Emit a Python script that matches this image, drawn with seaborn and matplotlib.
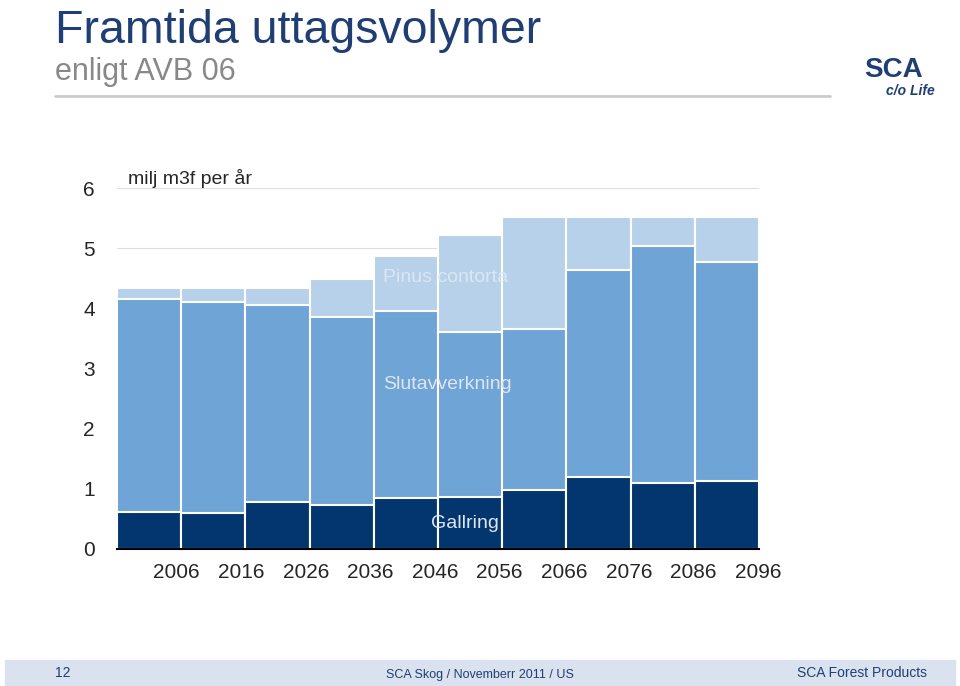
import matplotlib
matplotlib.use("Agg")
import matplotlib.pyplot as plt
import seaborn as sns
import pandas as pd
import numpy as np

years = ["2006","2016","2026","2036","2046","2056","2066","2076","2086","2096"]
gallring = [0.62,0.60,0.78,0.73,0.85,0.87,0.98,1.20,1.10,1.13]
slutavverkning = [3.53,3.50,3.27,3.12,3.10,2.73,2.67,3.43,3.93,3.64]
pinus = [0.18,0.23,0.28,0.63,0.92,1.62,1.87,0.89,0.49,0.75]

sns.set_style("white")
plt.rcParams["font.family"] = "Liberation Sans"
fig = plt.figure(figsize=(9.6,6.86), dpi=100)
W,H = 960,686
ax = fig.add_axes([117/W, 1-549/H, (759-117)/W, (549-188)/H])
df = pd.DataFrame({"year":years,"g":gallring,"s":slutavverkning,"p":pinus})
df["gs"] = df.g+df.s
df["gsp"] = df.gs+df.p
kw = dict(ax=ax, width=1.0, edgecolor="white", linewidth=1.5)
sns.barplot(data=df, x="year", y="gsp", color="#B7D1EA", saturation=1, **kw)
sns.barplot(data=df, x="year", y="gs", color="#6FA4D6", saturation=1, **kw)
sns.barplot(data=df, x="year", y="g", color="#03366F", saturation=1, **kw)
ax.set_xlabel(""); ax.set_ylabel("")
ax.set_yticks([0,1,2,3,4,5,6])
ax.set_xticks(np.arange(len(years))*1.006+0.43)
ax.set_xticklabels(years)
ax.set_ylim(0,6)
ax.set_xlim(-0.5,9.5)
ax.tick_params(axis="y", length=0, labelsize=15, pad=16)
ax.tick_params(axis="x", length=0, labelsize=15, pad=10)
for sp in ["left","right","top"]:
    ax.spines[sp].set_visible(False)
ax.spines["bottom"].set_color("black"); ax.spines["bottom"].set_linewidth(1.5)
for y in [5,6]:
    ax.axhline(y, color="#dddddd", lw=0.8, zorder=0)
ax.text(-0.33,6.15,"milj m3f per år",fontsize=14,va="center")
ax.text(3.64,4.52,"Pinus contorta",fontsize=14,color="#DDE6F0",va="center")
ax.text(3.64,2.73,"Slutavverkning",fontsize=14,color="#DDE6F0",va="center")
ax.text(4.39,0.43,"Gallring",fontsize=14,color="#DDE6F0",va="center")

fig.text(55/W,1-31/H,"Framtida uttagsvolymer",fontsize=33.5,color="#1F3F74",va="center")
fig.text(55/W,1-72/H,"enligt AVB 06",fontsize=22,color="#888888",va="center")
fig.add_artist(plt.Line2D([55/W,830/W],[1-96/H,1-96/H],color="#cccccc",lw=2))
fig.text(893/W,1-70/H,"SCA",fontsize=20,fontweight="bold",color="#1F3F74",ha="center",va="center")
fig.text(910/W,1-91/H,"c/o Life",fontsize=10,style="italic",fontweight="bold",color="#1F3F74",ha="center",va="center")
fig.add_artist(plt.Rectangle((5/W,0),950/W,26/H,color="#D9E2EE",transform=fig.transFigure))
fig.text(55/W,13/H,"12",fontsize=10,color="#1F3F74",va="center")
fig.text(480/W,11/H,"SCA Skog / Novemberr 2011 / US",fontsize=9,color="#1F3F74",va="center",ha="center")
fig.text(862/W,13/H,"SCA Forest Products",fontsize=10,color="#1F3F74",va="center",ha="center")
fig.savefig("out.png", dpi=100)
